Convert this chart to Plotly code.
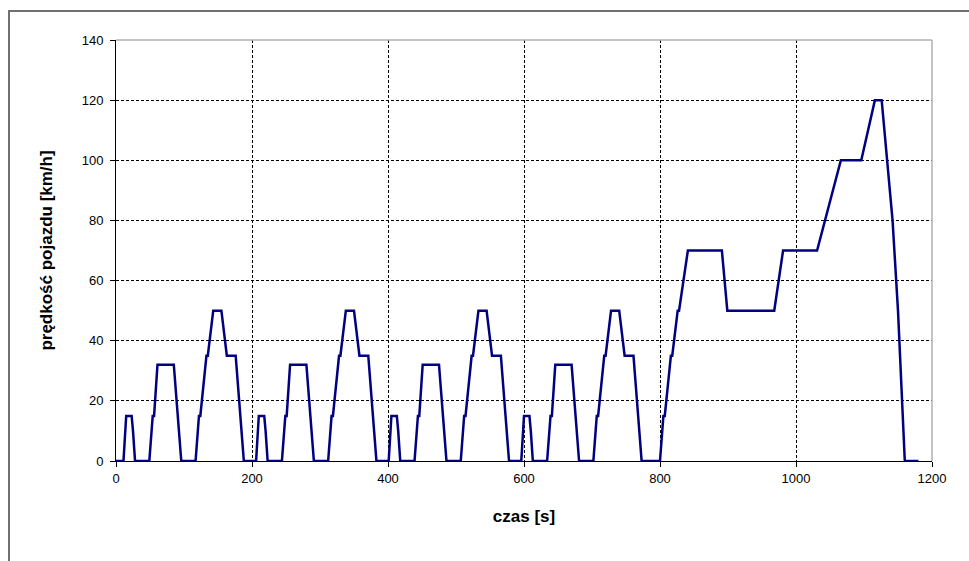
import plotly.graph_objects as go

# NEDC driving cycle: time [s] and vehicle speed [km/h]
czas = [
    0, 11, 15, 23, 25, 28, 49, 54, 56, 61, 85, 93, 96, 117, 122, 124, 133, 135, 143, 155, 163, 176, 185, 188,
    195, 206, 210, 218, 220, 223, 244, 249, 251, 256, 280, 288, 291, 312, 317, 319, 328, 330, 338, 350, 358, 371, 380, 383,
    390, 401, 405, 413, 415, 418, 439, 444, 446, 451, 475, 483, 486, 507, 512, 514, 523, 525, 533, 545, 553, 566, 575, 578,
    585, 596, 600, 608, 610, 613, 634, 639, 641, 646, 670, 678, 681, 702, 707, 709, 718, 720, 728, 740, 748, 761, 770, 773,
    780, 800, 805, 807, 816, 818, 826, 828, 841, 891, 899, 968, 981, 1031, 1066, 1096, 1116, 1126, 1142, 1150, 1160, 1180,
]
predkosc = [
    0, 0, 15, 15, 10, 0, 0, 15, 15, 32, 32, 10, 0, 0, 15, 15, 35, 35, 50, 50, 35, 35, 10, 0,
    0, 0, 15, 15, 10, 0, 0, 15, 15, 32, 32, 10, 0, 0, 15, 15, 35, 35, 50, 50, 35, 35, 10, 0,
    0, 0, 15, 15, 10, 0, 0, 15, 15, 32, 32, 10, 0, 0, 15, 15, 35, 35, 50, 50, 35, 35, 10, 0,
    0, 0, 15, 15, 10, 0, 0, 15, 15, 32, 32, 10, 0, 0, 15, 15, 35, 35, 50, 50, 35, 35, 10, 0,
    0, 0, 15, 15, 35, 35, 50, 50, 70, 70, 50, 50, 70, 70, 100, 100, 120, 120, 80, 50, 0, 0,
]

x_ticks = [0, 200, 400, 600, 800, 1000, 1200]
y_ticks = [0, 20, 40, 60, 80, 100, 120, 140]

FONT = "Liberation Sans, Arial, sans-serif"

fig = go.Figure()
fig.add_trace(go.Scatter(
    x=czas, y=predkosc, mode="lines",
    line=dict(color="#000080", width=2.5),
    showlegend=False, cliponaxis=False,
))

L, R, T, B = 116, 37, 40, 100
W, H = 969, 561
pw, ph = W - L - R, H - T - B

fig.update_layout(
    width=W, height=H,
    margin=dict(l=L, r=R, t=T, b=B),
    paper_bgcolor="white", plot_bgcolor="white",
    font=dict(family=FONT, size=13, color="black"),
    xaxis=dict(
        range=[0, 1200], tickvals=x_ticks, ticktext=[str(v) for v in x_ticks],
        showgrid=True, gridcolor="black", gridwidth=1, griddash="3px,2px",
        showline=True, linecolor="black", linewidth=1,
        ticks="outside", ticklen=5, tickcolor="black",
        zeroline=False,
        title=dict(text="<b>czas [s]</b>", font=dict(family=FONT, size=17), standoff=25),
    ),
    yaxis=dict(
        range=[0, 140], tickvals=y_ticks, ticktext=[str(v) for v in y_ticks],
        showgrid=True, gridcolor="black", gridwidth=1, griddash="3px,2px",
        showline=True, linecolor="black", linewidth=1,
        ticks="outside", ticklen=5, tickcolor="black", ticklabelstandoff=4,
        zeroline=False,
        title=dict(text="<b>prędkość pojazdu [km/h]</b>", font=dict(family=FONT, size=17), standoff=24),
    ),
)

# grey top/right border of plot area
fig.add_shape(type="line", xref="paper", yref="paper", x0=0, x1=1, y0=1, y1=1,
              line=dict(color="#b0b0b0", width=1.5))
fig.add_shape(type="line", xref="paper", yref="paper", x0=1, x1=1, y0=0, y1=1,
              line=dict(color="#b0b0b0", width=1.5))

# outer chart border (partially visible)
fig.add_shape(type="rect", xref="paper", yref="paper",
              x0=(9 - L) / pw, x1=(W + 10 - L) / pw,
              y0=(T + ph - (H + 10)) / ph, y1=(T + ph - 11) / ph,
              line=dict(color="#707070", width=2), layer="below")

fig.write_html("out.html")
